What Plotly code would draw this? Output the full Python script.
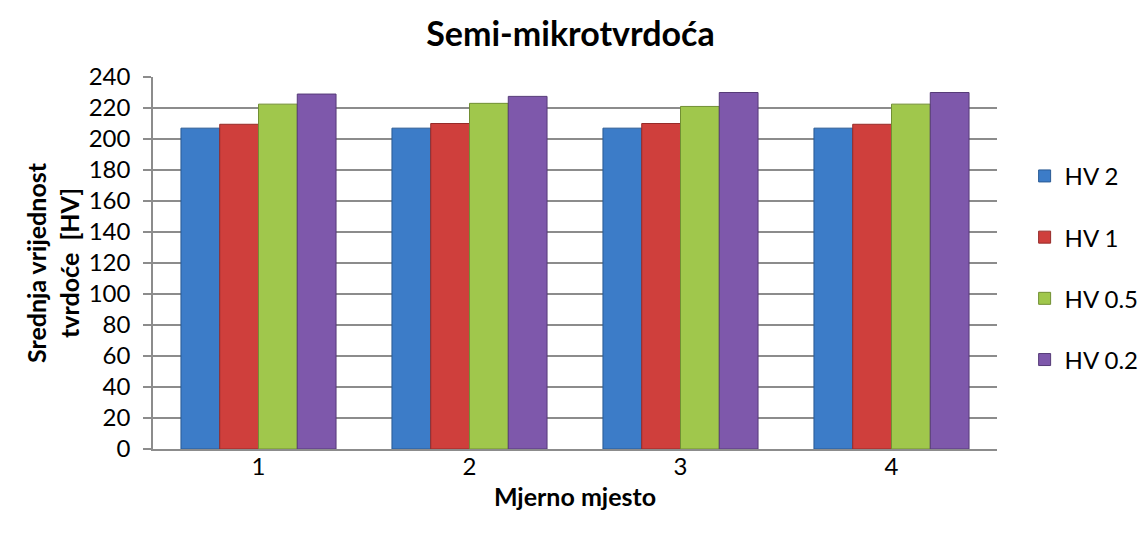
import plotly.graph_objects as go

# Measurement positions and mean hardness per load
mjesta = ["1", "2", "3", "4"]
hv2 = [207, 207, 207, 207]
hv1 = [209.5, 210, 210, 209.5]
hv05 = [222.5, 223, 221, 222.5]
hv02 = [229, 227.5, 230, 230]

serije = ["HV 2", "HV 1", "HV 0.5", "HV 0.2"]
boje = ["#3c7cc8", "#cf3f3c", "#a0c74c", "#7e58ab"]
rubovi = ["#2a5a94", "#962b29", "#718f33", "#563b78"]

FONT = "Lato"
GRID = "#8c8c8c"

fig = go.Figure()
for ime, vrij, boja, rub in zip(serije, [hv2, hv1, hv05, hv02], boje, rubovi):
    fig.add_trace(go.Bar(
        x=mjesta, y=vrij, name=ime, legendgroup=ime,
        marker=dict(color=boja, line=dict(color=rub, width=1)),
    ))

fig.update_layout(
    width=1141, height=537,
    margin=dict(l=153, r=144, t=77, b=88),
    paper_bgcolor="white", plot_bgcolor="white",
    barmode="group", bargap=0.265, bargroupgap=0,
    font=dict(family=FONT, size=24, color="black"),
    title=dict(text="<b>Semi-mikrotvrdoća</b>", x=0.5, xanchor="center",
               y=0.937, yanchor="middle", font=dict(size=34, family=FONT)),
    legend=dict(xref="container", x=0.898, yref="paper", y=0.487,
                xanchor="left", yanchor="middle", tracegroupgap=27,
                font=dict(size=24, family=FONT)),
    showlegend=True,
)
fig.update_xaxes(
    type="category", showline=True, linecolor=GRID, linewidth=1.5,
    ticks="", showgrid=False, ticklabelstandoff=-5,
    title=dict(text="<b>Mjerno mjesto</b>", font=dict(size=25), standoff=10),
)
fig.update_yaxes(
    range=[0, 240], dtick=20, showgrid=True, gridcolor=GRID, gridwidth=1.5,
    showline=True, linecolor=GRID, linewidth=1.5,
    ticks="outside", ticklen=8, tickcolor=GRID, tickwidth=1.5,
    ticklabelstandoff=8,
    title=dict(text="<b>Srednja vrijednost<br>tvrdoće  [HV]</b>",
               font=dict(size=25), standoff=2),
    zeroline=False,
)

fig.write_html("out.html")
